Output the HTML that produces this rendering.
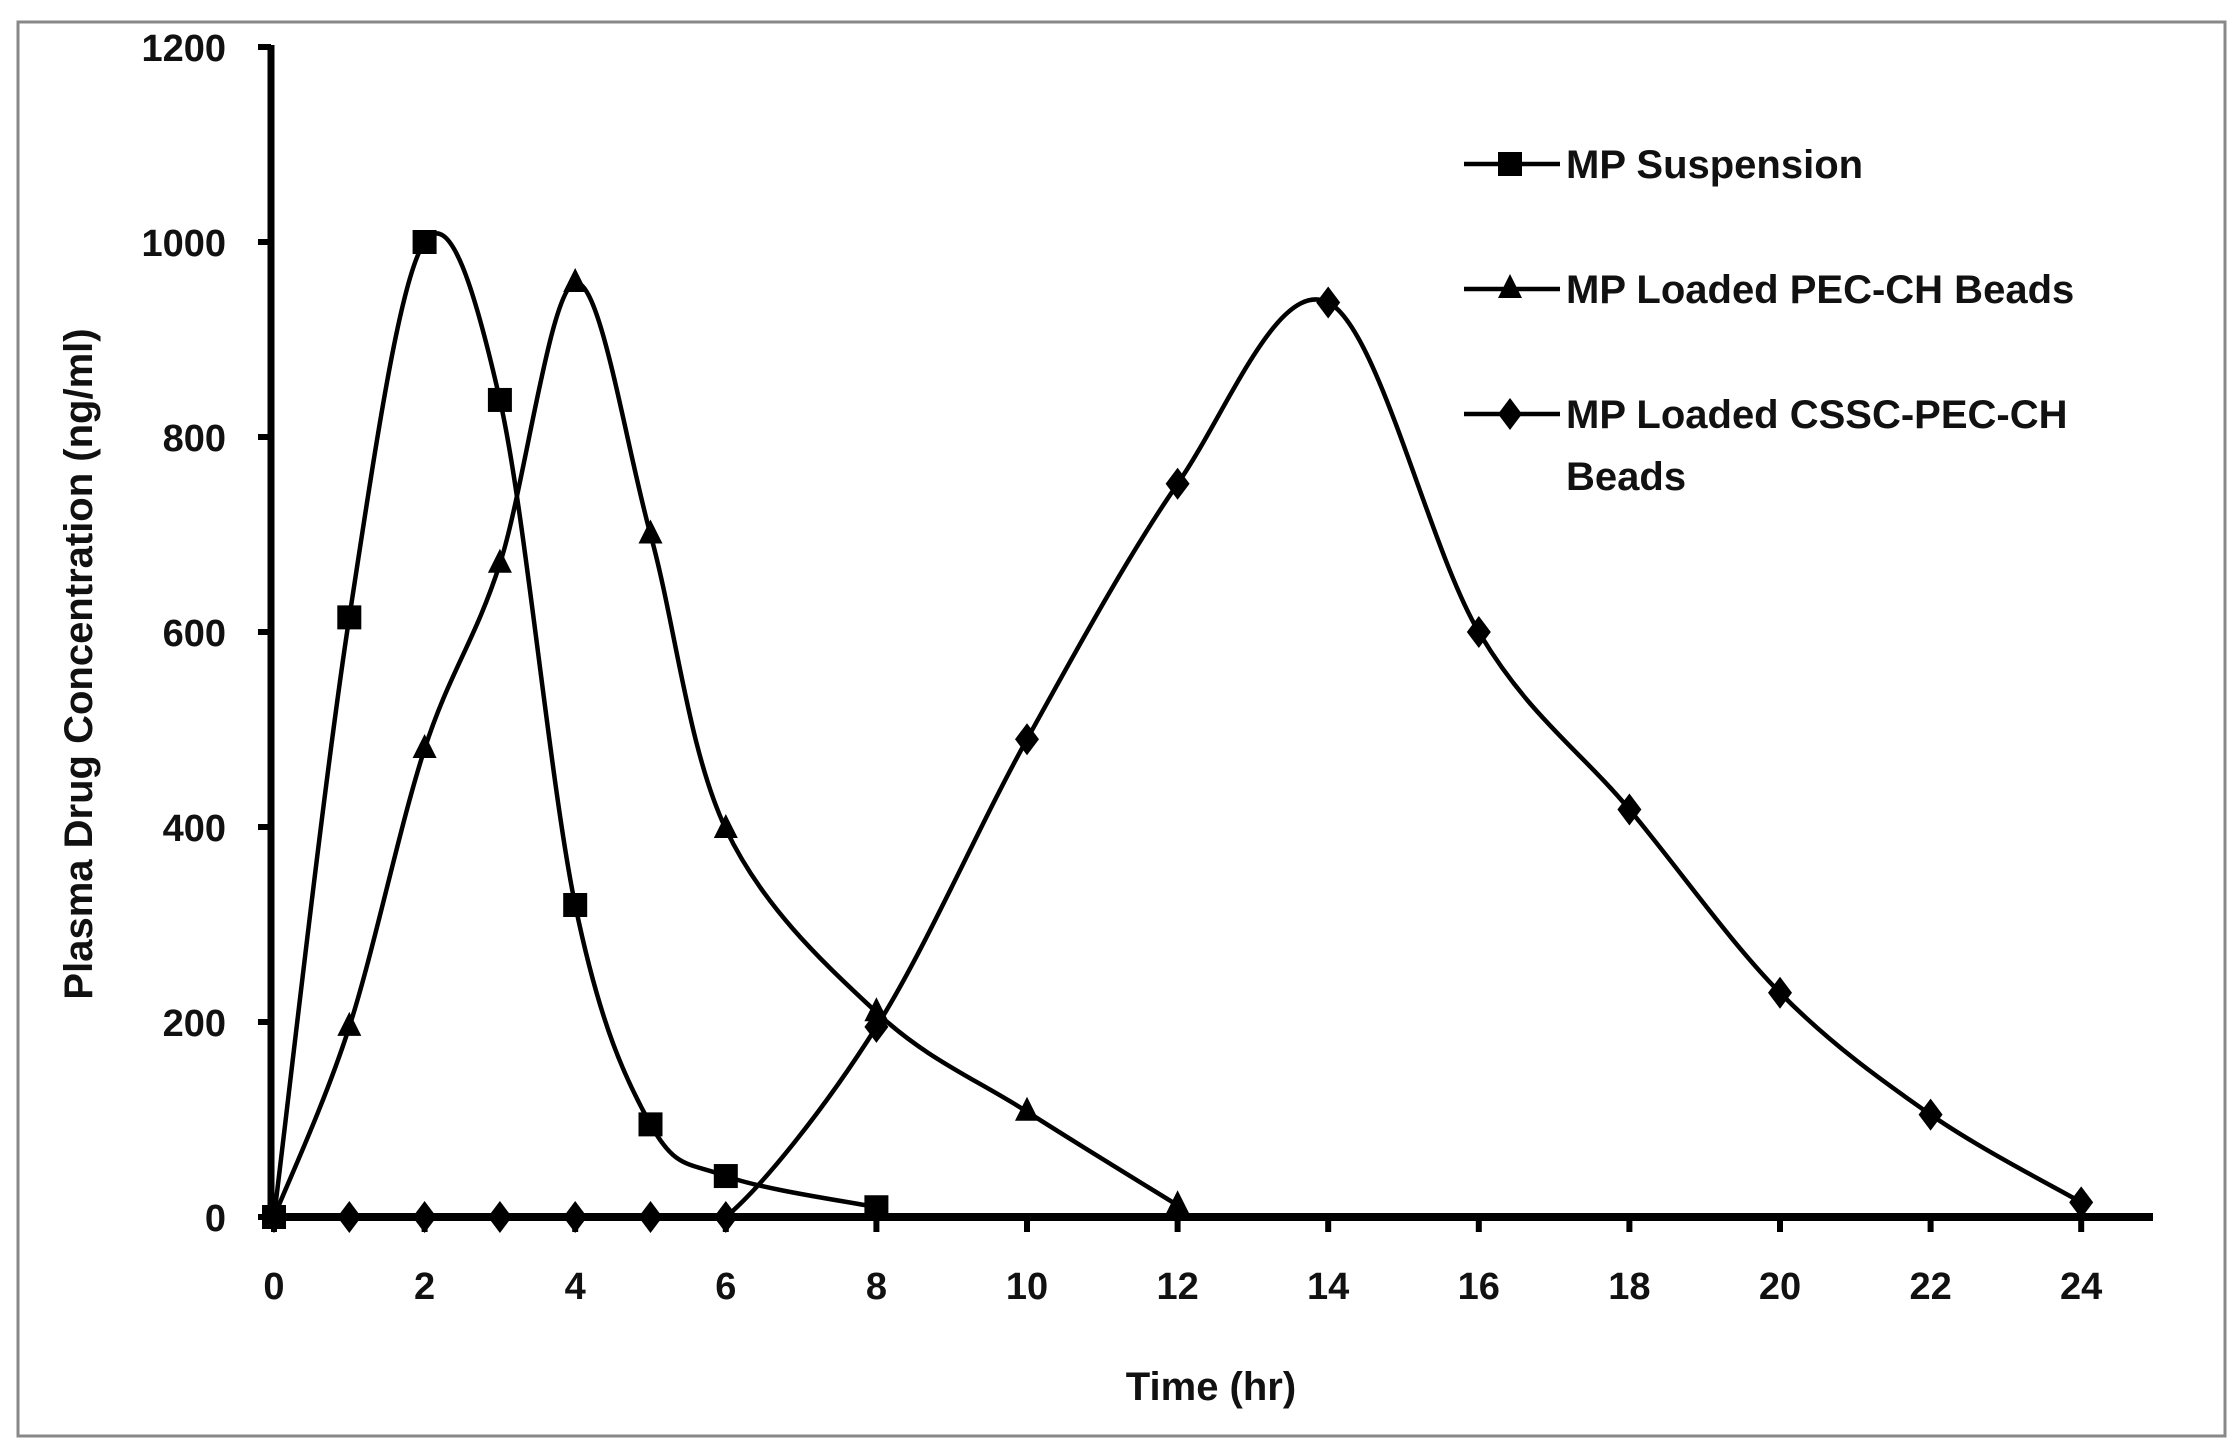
<!DOCTYPE html>
<html><head><meta charset="utf-8"><style>
html,body{margin:0;padding:0;background:#fff}
svg{display:block}
text{font-family:"Liberation Sans",sans-serif;font-weight:bold;fill:#111}
</style></head><body>
<svg id="s" width="2240" height="1454" viewBox="0 0 2240 1454" xmlns="http://www.w3.org/2000/svg">
<rect x="18" y="22" width="2207" height="1414" fill="#fff" stroke="#888" stroke-width="3"/>
<g id="g"></g>
</svg>
<script>
const NS="http://www.w3.org/2000/svg",g=document.getElementById('g');
const X0=274,XH=75.3,Y0=1217,YU=1170/1200;
const X=t=>X0+t*XH, Y=v=>Y0-v*YU;
function el(n,a,txt){const e=document.createElementNS(NS,n);for(const k in a)e.setAttribute(k,a[k]);if(txt!==undefined)e.textContent=txt;g.appendChild(e);return e;}
// axes
el('line',{x1:271,y1:45,x2:271,y2:1220,stroke:'#000','stroke-width':7});
el('line',{x1:268,y1:1217,x2:2153,y2:1217,stroke:'#000','stroke-width':8});
for(let v=0;v<=1200;v+=200){el('line',{x1:258,y1:Y(v),x2:271,y2:Y(v),stroke:'#000','stroke-width':6});
 el('text',{x:226,y:Y(v)+14,'text-anchor':'end','font-size':38},String(v));}
for(let t=0;t<=24;t+=2){el('line',{x1:X(t),y1:1217,x2:X(t),y2:1232,stroke:'#000','stroke-width':6});
 el('text',{x:X(t),y:1299,'text-anchor':'middle','font-size':38},String(t));}
el('text',{x:1211,y:1400,'text-anchor':'middle','font-size':40},'Time (hr)');
el('text',{x:0,y:0,'text-anchor':'middle','font-size':40,transform:'translate(92,664) rotate(-90)'},'Plasma Drug Concentration (ng/ml)');
function curve(pts){let p=pts.map(([t,v])=>[X(t),Y(v)]);let d='M'+p[0];
 for(let i=0;i<p.length-1;i++){const a=p[i-1]||p[i],b=p[i],c=p[i+1],e=p[i+2]||c;
  let c1=[b[0]+(c[0]-a[0])/6,b[1]+(c[1]-a[1])/6],c2=[c[0]-(e[0]-b[0])/6,c[1]-(e[1]-b[1])/6];
  if(b[1]>=Y0-0.5)c1[1]=Math.min(c1[1],Y0);if(c[1]>=Y0-0.5)c2[1]=Math.min(c2[1],Y0);
  c1[1]=Math.min(c1[1],Y0);c2[1]=Math.min(c2[1],Y0);
  d+=' C'+c1+' '+c2+' '+c;}
 el('path',{d,fill:'none',stroke:'#000','stroke-width':4.5});}
function mk(type,x,y){
 if(type==0)el('rect',{x:x-12,y:y-12,width:24,height:24,fill:'#000'});
 else if(type==1)el('polygon',{points:`${x},${y-15} ${x+12},${y+9} ${x-12},${y+9}`,fill:'#000'});
 else el('polygon',{points:`${x},${y-16} ${x+12},${y} ${x},${y+16} ${x-12},${y}`,fill:'#000'});}
const S=[
 [[0,0],[1,615],[2,1000],[3,838],[4,320],[5,95],[6,42],[8,10]],
 [[0,0],[1,195],[2,480],[3,670],[4,958],[5,700],[6,398],[8,210],[10,108],[12,12]],
 [[0,0],[1,0],[2,0],[3,0],[4,0],[5,0],[6,0],[8,195],[10,490],[12,752],[14,938],[16,600],[18,418],[20,230],[22,105],[24,15]]];
S.forEach((s,i)=>{curve(s);});
S.forEach((s,i)=>s.forEach(([t,v])=>mk(i,X(t),Y(v))));
// legend
const L=[[164,'MP Suspension'],[289,'MP Loaded PEC-CH Beads'],[414,'MP Loaded CSSC-PEC-CH']];
L.forEach(([y,txt],i)=>{el('line',{x1:1464,y1:y,x2:1560,y2:y,stroke:'#000','stroke-width':4.5});mk(i,1510,y);
 el('text',{x:1566,y:y+14,'font-size':40},txt);});
el('text',{x:1566,y:490,'font-size':40},'Beads');
</script>
</body></html>
